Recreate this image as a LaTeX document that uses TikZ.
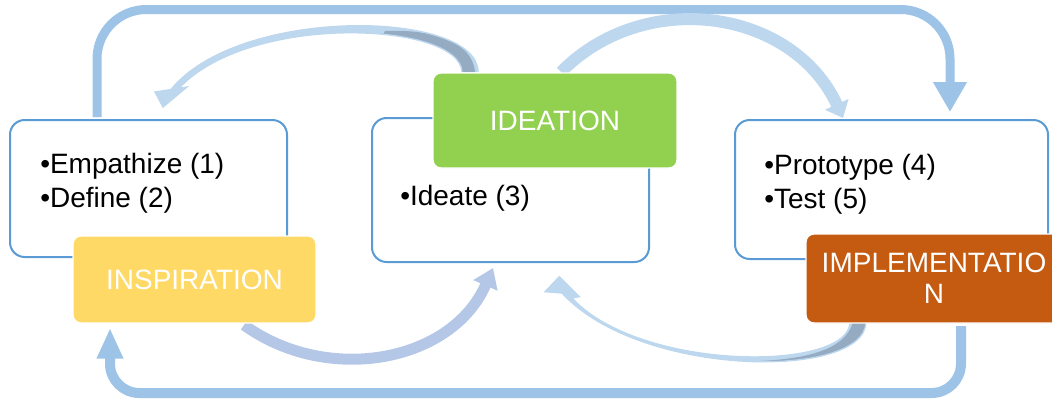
\documentclass[tikz,border=0pt]{standalone}
\usepackage{fontspec}
\setmainfont{Liberation Sans}
\usetikzlibrary{arrows.meta}
\definecolor{boxline}{HTML}{5B9BD5}
\definecolor{loopc}{HTML}{9DC3E6}
\definecolor{arrl}{HTML}{BDD7EE}
\definecolor{arrp}{HTML}{B4C7E7}
\definecolor{arrd}{HTML}{95ABC2}
\definecolor{yel}{HTML}{FFD966}
\definecolor{grn}{HTML}{92D050}
\definecolor{org}{HTML}{C55A11}
\begin{document}
\begin{tikzpicture}[x=0.75pt,y=-0.75pt,
  whitebox/.style={draw=boxline, line width=1.5pt, fill=white, rounded corners=11pt, inner sep=0pt},
  colbox/.style={draw=white, line width=1pt, rounded corners=6pt, text=white, font=\fontsize{21}{23.25}\selectfont, align=center, inner sep=0pt},
  bodytext/.style={anchor=base west, inner sep=0pt, font=\fontsize{21}{25}\selectfont},
  looparrow/.style={draw=loopc, line join=round},
  lightarrow/.style={draw=arrl},
]
\useasboundingbox (0,0) rectangle (1052,401);

% white content boxes
\node[whitebox, minimum width=207.75pt, minimum height=102.75pt] (lbox) at (148.5,188.5) {};
\node[whitebox, minimum width=207.75pt, minimum height=108pt] (mbox) at (510.5,190) {};
\node[whitebox, minimum width=234.75pt, minimum height=104.25pt] (rbox) at (891.5,189.5) {};

% connector end points
\coordinate (tl1) at (97,117);
\coordinate (tl2) at (950,112);
\coordinate (bl1) at (961,326);
\coordinate (bl2) at (110,328);
\coordinate (a4s) at (561,72);
\coordinate (a4e) at (843,118);
\coordinate (a5s) at (244,325);
\coordinate (a5e) at (493,268);

% outer loops
\draw[looparrow, line width=6.75pt, rounded corners=37pt, -{Triangle[width=24pt,length=22.5pt]}]
  (tl1) -- (97,9.5) -- (950,9.5) -- (tl2);
\draw[looparrow, line width=7.5pt, rounded corners=22pt, -{Triangle[width=18.5pt,length=23pt]}]
  (bl1) -- (961,393) -- (110,393) -- (bl2);

% IDEATION -> right box
\draw[lightarrow, line width=9pt, -{Triangle[width=18.75pt,length=11.25pt]}]
  (a4s) .. controls (645,-13) and (793,9) .. (a4e);

% INSPIRATION -> middle box
\draw[draw=arrp, line width=8.25pt, -{Triangle[width=19pt,length=14.25pt]}]
  (a5s) .. controls (327.6,385.3) and (451.8,362.3) .. (a5e);

% IDEATION -> left box (tapered, shaded)
\fill[arrl] (478,72) .. controls (478,10) and (240,5) .. (171,89.5) -- (155,92) -- (163,107) -- (187,87) -- (179,88.3) .. controls (250,12) and (460,22) .. (462,72) -- cycle;
\begin{scope}
\clip (478,72) .. controls (478,10) and (240,5) .. (171,89.5) -- (155,92) -- (163,107) -- (187,87) -- (179,88.3) .. controls (250,12) and (460,22) .. (462,72) -- cycle;
\fill[arrd] (385,31) .. controls (430,29) and (472,40) .. (475,72) -- (475,80) -- (440,80) -- (380,40) -- cycle;
\end{scope}
\draw[arrl, line width=1pt] (478,72) .. controls (478,10) and (240,5) .. (171,89.5) -- (155,92) -- (163,107) -- (187,87) -- (179,88.3) .. controls (250,12) and (460,22) .. (462,72);

% IMPLEMENTATION -> middle box (tapered, shaded)
\fill[arrl] (866,322) .. controls (865,380) and (640,378) .. (562,293) -- (545,291.7) -- (559.3,276.7) -- (579.3,296.7) -- (572,298) .. controls (640,372) and (850,372) .. (850,322) -- cycle;
\begin{scope}
\clip (866,322) .. controls (865,380) and (640,378) .. (562,293) -- (545,291.7) -- (559.3,276.7) -- (579.3,296.7) -- (572,298) .. controls (640,372) and (850,372) .. (850,322) -- cycle;
\fill[arrd] (760,361) .. controls (800,359) and (845,352) .. (853,322) -- (880,322) -- (880,380) -- (760,380) -- cycle;
\end{scope}
\draw[arrl, line width=1pt] (866,322) .. controls (865,380) and (640,378) .. (562,293) -- (545,291.7) -- (559.3,276.7) -- (579.3,296.7) -- (572,298) .. controls (640,372) and (850,372) .. (850,322);

% coloured title boxes
\node[colbox, fill=yel, minimum width=182.25pt, minimum height=65.25pt] (insp) at (194.5,279.5) {INSPIRATION};
\node[colbox, fill=grn, minimum width=183pt, minimum height=71.25pt] (idea) at (555,120.5) {IDEATION};
\node[colbox, fill=org, minimum width=192pt, minimum height=66.75pt] (impl) at (934,278.5) {IMPLEMENTATIO\\N};

% body texts
\node[bodytext] (t1) at (40,173) {•Empathize (1)};
\node[bodytext] (t2) at (40,207) {•Define (2)};
\node[bodytext] (t3) at (400,205) {•Ideate (3)};
\node[bodytext] (t4) at (764,174) {•Prototype (4)};
\node[bodytext] (t5) at (764,208) {•Test (5)};
\end{tikzpicture}
\end{document}
